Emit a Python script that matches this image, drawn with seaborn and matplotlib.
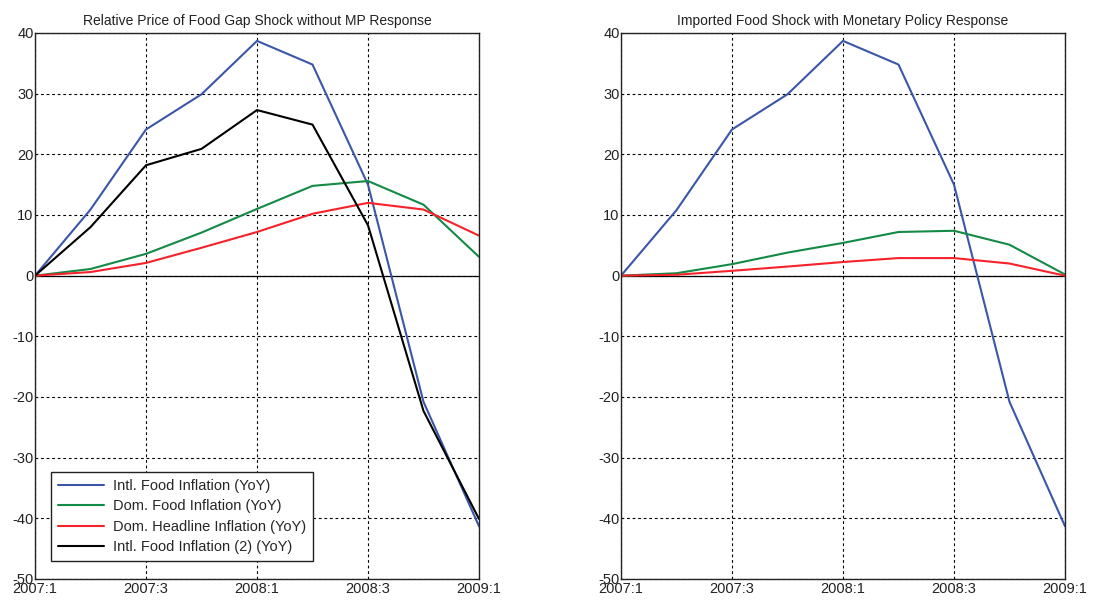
import numpy as np
import pandas as pd
import matplotlib
matplotlib.use("Agg")
import matplotlib.pyplot as plt
import seaborn as sns

quarters = ["2007:1", "2007:2", "2007:3", "2007:4", "2008:1", "2008:2", "2008:3", "2008:4", "2009:1"]
tick_quarters = ["2007:1", "2007:3", "2008:1", "2008:3", "2009:1"]

# left panel: relative price of food gap shock, no MP response
intl_food = [0, 10.9, 24.1, 29.9, 38.7, 34.8, 15.0, -20.8, -41.3]
dom_food_l = [0, 1.1, 3.6, 7.1, 11.0, 14.8, 15.6, 11.7, 3.1]
dom_head_l = [0, 0.6, 2.1, 4.6, 7.2, 10.2, 12.0, 10.9, 6.6]
intl_food2 = [0, 8.0, 18.2, 20.9, 27.3, 24.9, 8.3, -22.3, -40.1]

# right panel: imported food shock with MP response
intl_food_r = [0, 10.8, 24.1, 29.9, 38.7, 34.8, 15.0, -20.8, -41.3]
dom_food_r = [0, 0.4, 1.9, 3.8, 5.4, 7.2, 7.4, 5.1, 0.2]
dom_head_r = [0, 0.15, 0.8, 1.5, 2.25, 2.9, 2.9, 2.0, 0]

names = ["Intl. Food Inflation (YoY)", "Dom. Food Inflation (YoY)",
         "Dom. Headline Inflation (YoY)", "Intl. Food Inflation (2) (YoY)"]
colors = {names[0]: "#3b56a8", names[1]: "#138a45", names[2]: "#f5222a", names[3]: "#000000"}

def long_frame(series):
    rows = []
    for name, vals in series:
        for i, v in enumerate(vals):
            rows.append({"t": i, "value": v, "series": name})
    return pd.DataFrame(rows)

left = long_frame([(names[0], intl_food), (names[1], dom_food_l),
                   (names[2], dom_head_l), (names[3], intl_food2)])
right = long_frame([(names[0], intl_food_r), (names[1], dom_food_r), (names[2], dom_head_r)])

sns.set_style("white")
plt.rcParams["font.family"] = ["Liberation Sans", "DejaVu Sans"]
plt.rcParams["font.size"] = 10
plt.rcParams["axes.unicode_minus"] = False

fig = plt.figure(figsize=(11.01, 6.03), dpi=100)
ax1 = fig.add_axes([35 / 1101, 1 - 579 / 603, 444 / 1101, 546 / 603])
ax2 = fig.add_axes([621 / 1101, 1 - 579 / 603, 444 / 1101, 546 / 603])

for ax, df, title in [(ax1, left, "Relative Price of Food Gap Shock without MP Response"),
                      (ax2, right, "Imported Food Shock with Monetary Policy Response")]:
    sns.lineplot(data=df, x="t", y="value", hue="series", palette=colors,
                 linewidth=1.5, ax=ax, legend=(ax is ax1), zorder=3)
    ax.axhline(0, color="black", linewidth=0.9, zorder=2)
    ax.set_xlim(0, 8)
    ax.set_ylim(-50, 40)
    ax.set_xticks([quarters.index(q) for q in tick_quarters])
    ax.set_xticklabels(tick_quarters)
    ax.set_yticks(np.arange(-50, 41, 10))
    ax.grid(True, color="black", linestyle=(0, (2.5, 2.5)), linewidth=0.8)
    ax.tick_params(axis="both", direction="in", length=4, labelsize=10.5, colors="#222222", pad=1)
    ax.tick_params(axis="x", pad=2)
    for s in ax.spines.values():
        s.set_color("#222222")
        s.set_linewidth(1.0)
        s.set_zorder(4)
    ax.set_xlabel("")
    ax.set_ylabel("")
    ax.set_title(title, fontsize=10, color="#222222", pad=6)

leg = ax1.legend(loc="lower left", bbox_to_anchor=(0.036, 0.033), borderaxespad=0,
                 fontsize=10.5, frameon=True, fancybox=False, edgecolor="#222222",
                 framealpha=1, handlelength=3.2, handletextpad=0.6,
                 borderpad=0.45, labelspacing=0.45)
leg.get_frame().set_linewidth(1.0)

fig.savefig("out.png", dpi=100)
